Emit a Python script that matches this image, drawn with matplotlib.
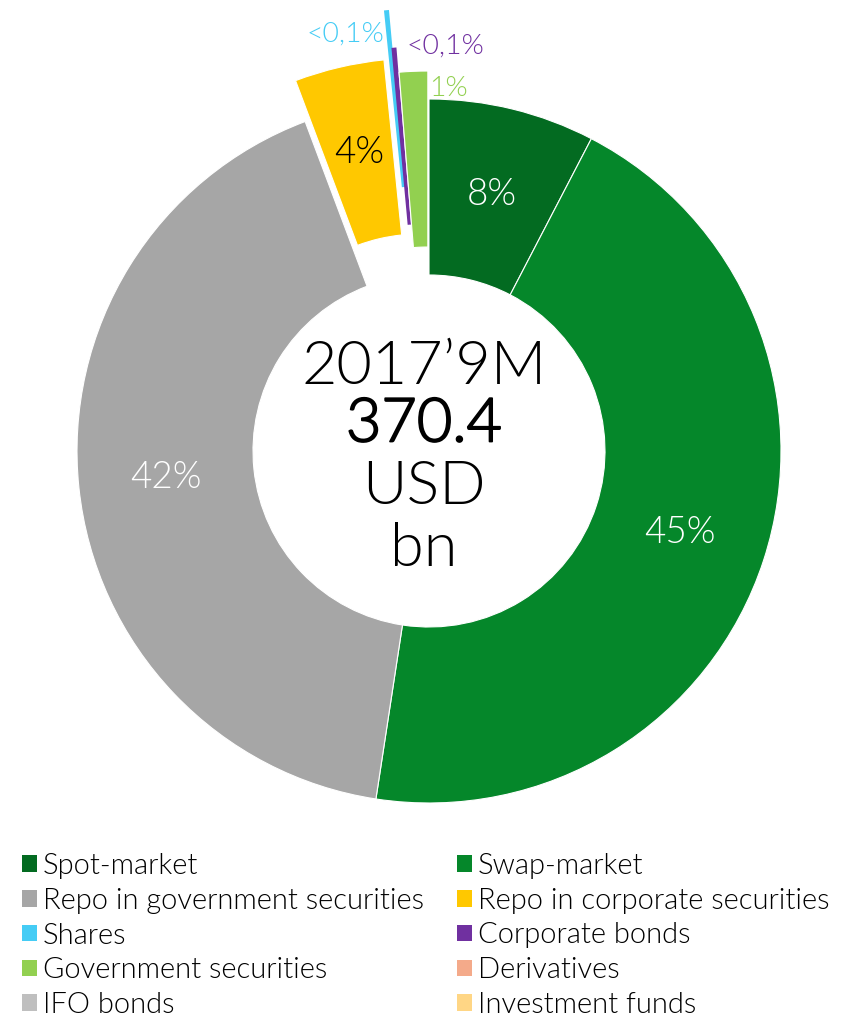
import matplotlib
matplotlib.use("Agg")
import matplotlib.pyplot as plt
import matplotlib.patheffects as pe
from matplotlib.patches import Patch
import numpy as np

# ---------------- data ----------------
categories = ["Spot-market", "Swap-market", "Repo in government securities",
              "Repo in corporate securities", "Shares", "Corporate bonds",
              "Government securities", "Derivatives", "IFO bonds", "Investment funds"]
share_pct = [7.6, 44.6, 41.7, 4.1, 0.15, 0.15, 1.3, 0.0, 0.0, 0.0]
pct_labels = ["8%", "45%", "42%", "4%", "<0,1%", "<0,1%", "1%", "", "", ""]
colors = ["#036B21", "#05872A", "#A6A6A6", "#FFC800", "#45CCF5", "#7030A0",
          "#92D050", "#F4AA8A", "#BFBFBF", "#FFD685"]
center_lines = ["2017\u20199M", "370.4", "USD", "bn"]

# ---------------- style ----------------
W, H, DPI = 846, 1018, 100
CX, CY, R, RING = 429, 1018 - 451, 352, 176
explode_px = {3: 42, 4: 90, 5: 52, 6: 28}
label_color = {0: "white", 1: "white", 2: "white", 3: "black",
               4: "#45CCF5", 5: "#7030A0", 6: "#92D050"}
outside_offsets = {4: (-2, -23, "right"), 5: (12, 2, "left"), 6: (16, -17, "left")}
FONT = "Lato"
LIGHT = 300

fig = plt.figure(figsize=(W / DPI, H / DPI), dpi=DPI)
ax = fig.add_axes([0, 0, 1, 1])

idx = [i for i, v in enumerate(share_pct) if v > 0]
vals = [share_pct[i] for i in idx]
cols = [colors[i] for i in idx]
expl = [explode_px.get(i, 0) for i in idx]

wedges, _ = ax.pie(vals, colors=cols, explode=expl, startangle=90, counterclock=False,
                   radius=R, center=(CX, CY),
                   wedgeprops=dict(width=RING, linewidth=0.8, edgecolor="white"))
for w, i in zip(wedges, idx):
    if share_pct[i] < 0.5:
        w.set_edgecolor(colors[i])
        w.set_linewidth(1.2)

ax.set_xlim(0, W)
ax.set_ylim(0, H)
ax.set_aspect("equal")
ax.axis("off")

for w, i in zip(wedges, idx):
    lab = pct_labels[i]
    if not lab:
        continue
    th = np.deg2rad((w.theta1 + w.theta2) / 2)
    cx, cy = w.center
    if i in outside_offsets:
        dx, dy, ha = outside_offsets[i]
        tip = (cx + R * np.cos(th), cy + R * np.sin(th))
        ax.annotate(lab, xy=tip, xytext=(dx, dy), textcoords="offset pixels",
                    ha=ha, va="center", fontsize=20.5, color=label_color[i],
                    family=FONT, fontweight=LIGHT)
    else:
        rm = R - RING / 2
        ax.text(cx + rm * np.cos(th), cy + rm * np.sin(th), lab, ha="center",
                va="center", fontsize=26.5, color=label_color[i], family=FONT,
                fontweight=LIGHT)

line_offsets = [84, 26, -36, -99]
for k, (txt, off) in enumerate(zip(center_lines, line_offsets)):
    t = ax.text(CX - 5, CY + off, txt, ha="center", va="center", fontsize=44,
                family=FONT, fontweight=LIGHT, color="black")
    if k == 1:
        t.set_path_effects([pe.Stroke(linewidth=1.3, foreground="black"), pe.Normal()])

handles = [Patch(facecolor=c, edgecolor="none") for c in colors]
left = [0, 2, 4, 6, 8]
right = [1, 3, 5, 7, 9]
common = dict(frameon=False, handlelength=0.5, handleheight=0.5,
              handletextpad=0.22, labelspacing=0.3, borderpad=0, borderaxespad=0,
              loc="upper left", prop=dict(family=FONT, weight=LIGHT, size=21))
leg1 = fig.legend([handles[i] for i in left], [categories[i] for i in left],
                  bbox_to_anchor=(22 / W, 1 - 853 / H), **common)
leg2 = fig.legend([handles[i] for i in right], [categories[i] for i in right],
                  bbox_to_anchor=(457 / W, 1 - 853 / H), **common)

fig.savefig("out.png", dpi=DPI)
